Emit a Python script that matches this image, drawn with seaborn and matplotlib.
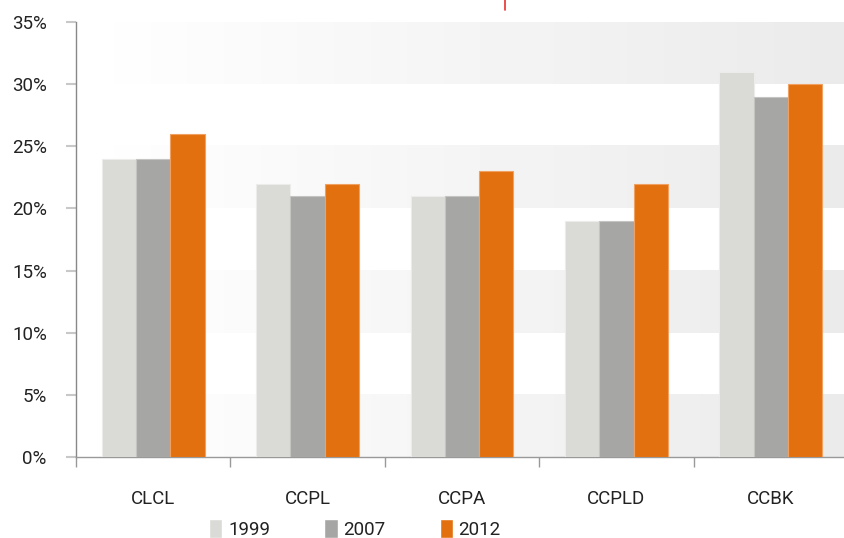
import numpy as np
import pandas as pd
import matplotlib
matplotlib.use("Agg")
import matplotlib.pyplot as plt
import seaborn as sns
from matplotlib.lines import Line2D

categories = ["CLCL", "CCPL", "CCPA", "CCPLD", "CCBK"]
years = ["1999", "2007", "2012"]
v1999 = [24, 22, 21, 19, 31]
v2007 = [24, 21, 21, 19, 29]
v2012 = [26, 22, 23, 22, 30]
colors = ["#dadad6", "#a6a6a5", "#e3700e"]
edges = ["#ececea", "#c4c4c3", "#f0a060"]

df = pd.DataFrame({
    "cat": categories * 3,
    "year": [y for y in years for _ in categories],
    "val": v1999 + v2007 + v2012,
})

sns.set_theme(style="white")
plt.rcParams["font.family"] = ["Roboto", "DejaVu Sans"]
fs = 13.5

fig = plt.figure(figsize=(8.44, 5.38), dpi=100)
ax = fig.add_axes([76 / 844, 81 / 538, 772 / 844, 435 / 538])

sns.barplot(data=df, x="cat", y="val", hue="year", palette=colors,
            width=0.667, gap=0, ax=ax, zorder=3, legend=True, saturation=1)

for i, cont in enumerate(ax.containers):
    for p in cont.patches:
        p.set_edgecolor(edges[i])
        p.set_linewidth(0.8)

# gradient bands
grad = np.linspace(1.0, 0.918, 256).reshape(1, -1)
for lo in [0, 10, 20, 30]:
    ax.imshow(grad, cmap="gray", vmin=0, vmax=1, aspect="auto",
              extent=(-0.5, 4.5, lo, lo + 5), zorder=0, interpolation="bilinear")
ax.set_xlim(-0.5, 4.5)
ax.set_ylim(0, 35)

ax.set_yticks(range(0, 36, 5))
ax.set_yticklabels([f"{t}%" for t in range(0, 36, 5)])
ax.set_xticks(range(5))
ax.set_xticklabels(categories)
ax.set_xticks(np.arange(-0.5, 4.6, 1), minor=True)
ax.tick_params(left=True, bottom=True)
ax.tick_params(axis="x", which="major", length=0, pad=24, labelsize=fs, labelcolor="#222222")
ax.tick_params(axis="x", which="minor", bottom=True, length=7, width=1, color="#999999", direction="out")
ax.tick_params(axis="y", length=7, width=1.5, color="#c8c8c8", pad=14, labelsize=fs, labelcolor="#222222")
ax.set_xlabel("")
ax.set_ylabel("")
for s in ["top", "right"]:
    ax.spines[s].set_visible(False)
ax.spines["left"].set_color("#888888")
ax.spines["bottom"].set_color("#999999")
ax.spines["left"].set_linewidth(1)
ax.spines["bottom"].set_linewidth(1)

handles, labels = ax.get_legend_handles_labels()
ax.legend(handles, labels, loc="center", bbox_to_anchor=((355 - 76) / 772, (457 - 529) / 435),
          ncol=3, frameon=False, handlelength=0.7, handleheight=1.2, handletextpad=0.3,
          columnspacing=2.9, fontsize=fs, labelcolor="#222222")

fig.add_artist(Line2D([505 / 844, 505 / 844], [1.0, 1 - 10 / 538], color="#e83030", lw=1.2))

fig.savefig("out.png", dpi=100)
